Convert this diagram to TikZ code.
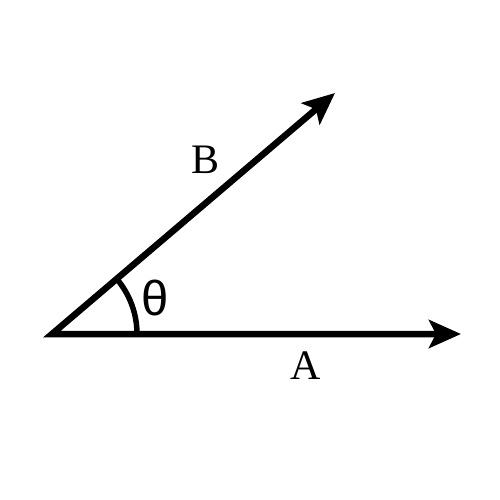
\documentclass[tikz,border=0pt]{standalone}
\usepackage{fontspec}
\setmainfont{Liberation Serif}
\newfontfamily\thetafont{Liberation Sans}
\usetikzlibrary{arrows.meta}
\begin{document}
\begin{tikzpicture}[x=1pt,y=-1pt,
  vec/.style={line width=6.5pt,line join=miter,{Stealth[length=32pt,width=28pt,inset=7pt]}-{Stealth[length=32pt,width=28pt,inset=7pt]}},
  lbl/.style={font=\fontsize{42}{42}\selectfont,inner sep=0pt}]
\useasboundingbox (0,0) rectangle (500,500);
\coordinate (O) at (52,334);
\coordinate (Ae) at (461,334);
\coordinate (Be) at (335,93);
\draw[vec] (Be) -- (O) -- (Ae);
\draw[line width=5.5pt] ([xshift=85pt]O) arc[start angle=0,end angle=40.4,radius=85pt];
\node[lbl] (lb) at (206,160) {B};
\node[lbl] (la) at (306,366) {A};
\node[font=\thetafont\fontsize{49}{49}\selectfont,inner sep=0pt] (lt) at (155,298) {θ};
\end{tikzpicture}
\end{document}
